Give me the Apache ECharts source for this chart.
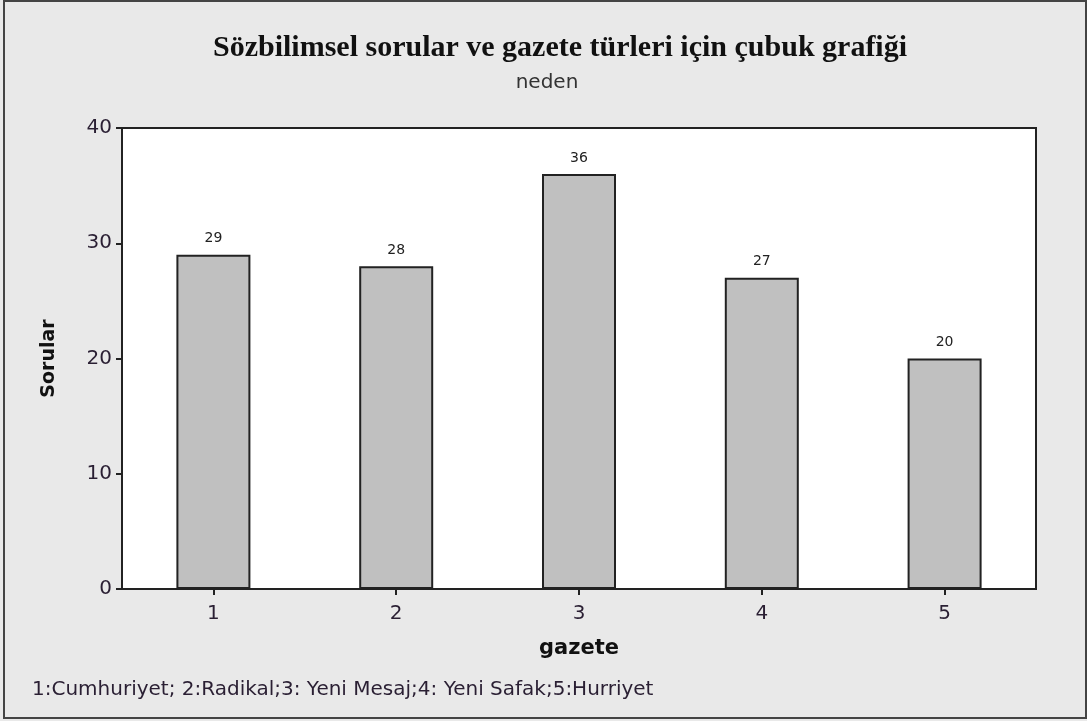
<!DOCTYPE html>
<html>
<head>
<meta charset="utf-8">
<script src="https://cdn.jsdelivr.net/npm/echarts@6/dist/echarts.min.js"></script>
<style>
  html, body { margin: 0; padding: 0; background: #e9e9e9; }
  #container { width: 1087px; height: 721px; }
</style>
</head>
<body>
<div id="container"></div>
<script>
var gazeteler = ['1', '2', '3', '4', '5'];
var sorular = [29, 28, 36, 27, 20];
var yTicks = [0, 10, 20, 30, 40];

var dom = document.getElementById('container');
var myChart = echarts.init(dom, null, { renderer: 'canvas' });

var textColor = '#2a1f33';

var option = {
  backgroundColor: '#e9e9e9',
  animation: false,
  title: [{
    text: 'Sözbilimsel sorular ve gazete türleri için çubuk grafiği',
    left: 555, top: 28, textAlign: 'center',
    textStyle: { fontFamily: 'Liberation Serif', fontWeight: 'bold', fontSize: 30, color: '#111' }
  }, {
    text: 'neden',
    left: 542, top: 68, textAlign: 'center',
    textStyle: { fontFamily: 'DejaVu Sans', fontWeight: 'normal', fontSize: 20, color: '#333' }
  }],
  grid: {
    left: 122, top: 128, width: 914, height: 461,
    show: true, backgroundColor: '#ffffff', borderColor: '#222', borderWidth: 2
  },
  xAxis: {
    type: 'category',
    data: gazeteler,
    name: 'gazete',
    nameLocation: 'middle',
    nameGap: 49,
    nameTextStyle: { fontFamily: 'DejaVu Sans', fontWeight: 'bold', fontSize: 21, color: '#111' },
    axisLine: { show: true, lineStyle: { color: '#222', width: 2 } },
    axisTick: { show: true, alignWithLabel: true, length: 6, lineStyle: { color: '#222', width: 2 } },
    axisLabel: { fontFamily: 'DejaVu Sans', fontSize: 20, color: textColor, margin: 15 }
  },
  yAxis: {
    type: 'value',
    min: 0, max: 40, interval: 10,
    name: 'Sorular',
    nameLocation: 'middle',
    nameGap: 63,
    nameTextStyle: { fontFamily: 'DejaVu Sans', fontWeight: 'bold', fontSize: 19, color: '#111' },
    axisLine: { show: true, lineStyle: { color: '#222', width: 2 } },
    axisTick: { show: true, length: 6, lineStyle: { color: '#222', width: 2 } },
    axisLabel: {
      fontFamily: 'DejaVu Sans', fontSize: 20, color: textColor, margin: 10,
      formatter: function (v) { return yTicks.indexOf(v) >= 0 ? String(v) : ''; }
    },
    splitLine: { show: false }
  },
  series: [{
    type: 'bar',
    data: sorular,
    barWidth: 74,
    itemStyle: { color: '#c0c0c0', borderColor: '#222', borderWidth: 2 },
    label: {
      show: true, position: 'top', distance: 9,
      fontFamily: 'DejaVu Sans', fontSize: 14, color: '#222'
    }
  }],
  graphic: [{
    type: 'rect',
    shape: { x: 4, y: 1, width: 1082, height: 717 },
    style: { fill: null, stroke: '#444', lineWidth: 2 },
    silent: true
  }, {
    type: 'text',
    left: 32, top: 680,
    style: {
      text: '1:Cumhuriyet; 2:Radikal;3: Yeni Mesaj;4: Yeni Safak;5:Hurriyet',
      font: '20px "DejaVu Sans"',
      fill: textColor
    }
  }]
};

myChart.setOption(option);
window.addEventListener('resize', myChart.resize);
</script>
</body>
</html>
